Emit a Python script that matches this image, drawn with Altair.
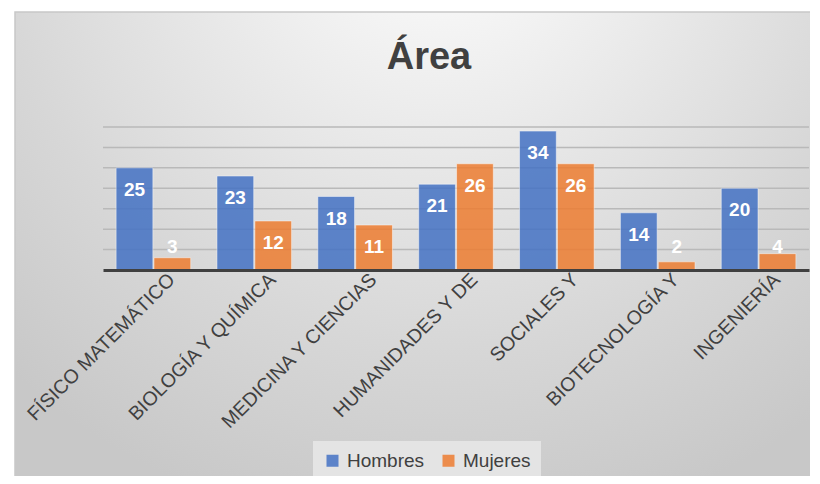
import altair as alt
import pandas as pd

categories = ["FÍSICO MATEMÁTICO", "BIOLOGÍA Y QUÍMICA", "MEDICINA Y CIENCIAS",
              "HUMANIDADES Y DE", "SOCIALES Y", "BIOTECNOLOGÍA Y", "INGENIERÍA"]
series = ["Hombres", "Mujeres"]
hombres = [25, 23, 18, 21, 34, 14, 20]
mujeres = [3, 12, 11, 26, 26, 2, 4]
grid_values = [5, 10, 15, 20, 25, 30, 35]
colors = ["#4472C4", "#ED7D31"]

rows = []
for c, h, m in zip(categories, hombres, mujeres):
    rows.append({"area": c, "sexo": "Hombres", "valor": h})
    rows.append({"area": c, "sexo": "Mujeres", "valor": m})
df = pd.DataFrame(rows)

FONT = "Liberation Sans"
W, H = 706, 143
yscale = alt.Scale(domain=[0, 35], nice=False, zero=True)

gradient = {
    "gradient": "radial",
    "x1": 0.52, "y1": 0.06, "r1": 0,
    "x2": 0.52, "y2": 0.06, "r2": 0.78,
    "stops": [
        {"offset": 0, "color": "#ffffff"},
        {"offset": 0.3, "color": "#eeeeee"},
        {"offset": 0.7, "color": "#d7d7d7"},
        {"offset": 1, "color": "#c8c8c8"},
    ],
}

bg = alt.Chart(pd.DataFrame({"k": [0]})).mark_rect(
    color=gradient, stroke="#c8c8c8", strokeWidth=1.5
).encode(
    x=alt.value(-88), x2=alt.value(730), y=alt.value(-115), y2=alt.value(380)
)

grid = alt.Chart(pd.DataFrame({"g": grid_values})).mark_rule(
    color="#b9b9b9", strokeWidth=1.5
).encode(y=alt.Y("g:Q", scale=yscale, axis=None))

xenc = alt.X(
    "area:N", sort=categories,
    scale=alt.Scale(paddingInner=0.26, paddingOuter=0.13),
    axis=alt.Axis(
        title=None, labelAngle=-45, labelAlign="right", labelBaseline="top",
        labelOffset=12, labelPadding=0, labelFontSize=19.5, labelFont=FONT,
        labelColor="#404040", domainColor="#404040", domainWidth=3,
        ticks=False, grid=False, zindex=1, labelOverlap=False, labelLimit=400,
    ),
)
xoff = alt.XOffset("sexo:N", sort=series, scale=alt.Scale(paddingInner=0.03))

bars = alt.Chart(df).mark_bar(
    opacity=0.85, stroke="white", strokeWidth=1, strokeOpacity=0.5
).encode(
    x=xenc,
    xOffset=xoff,
    y=alt.Y("valor:Q", scale=yscale, axis=None),
    color=alt.Color(
        "sexo:N",
        scale=alt.Scale(domain=series, range=colors),
        legend=alt.Legend(
            title=None, orient="none", legendX=210, legendY=314,
            direction="horizontal", fillColor="#e4e4e4", padding=10,
            symbolType="square", symbolSize=144, symbolStrokeWidth=0,
            symbolOpacity=0.85, labelFontSize=19, labelFont=FONT,
            labelColor="#404040", columnPadding=14, labelOffset=5,
        ),
    ),
)

labels = alt.Chart(df).transform_calculate(
    ly="max(datum.valor - 5.4, 5.6)"
).mark_text(
    color="white", fontSize=19, fontWeight="bold", font=FONT, baseline="middle"
).encode(
    x=alt.X("area:N", sort=categories),
    xOffset=xoff,
    y=alt.Y("ly:Q", scale=yscale, axis=None),
    text="valor:Q",
)

chart = alt.layer(bg, grid, bars, labels).properties(
    width=W, height=H,
    title=alt.TitleParams(
        "Área", fontSize=38, fontWeight="bold", color="#404040", font=FONT,
        anchor="middle", frame="group", dx=-27, offset=-96, baseline="alphabetic",
    ),
    autosize=alt.AutoSizeParams(type="none"),
    padding={"left": 95, "top": 119, "right": 1, "bottom": 206},
    background="white",
).configure_view(strokeWidth=0)

chart.save("out.html", embed_options={"renderer": "svg", "actions": False})
